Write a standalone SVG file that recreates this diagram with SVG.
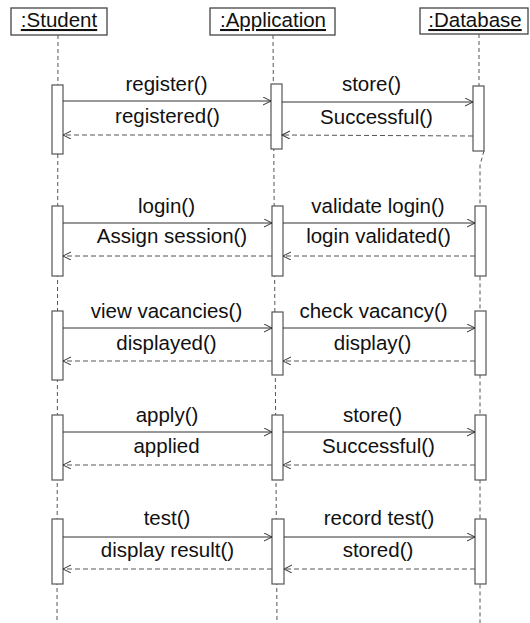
<svg xmlns="http://www.w3.org/2000/svg" width="530" height="623" viewBox="0 0 530 623">
<style>
  text { font-family: "Liberation Sans", Arial, sans-serif; font-size: 20.5px; fill: #111; }
  .hdr { fill: #fff; stroke: #444; stroke-width: 1.3; }
  .life { stroke: #555; stroke-width: 1; stroke-dasharray: 4 3; fill: none; }
  .act { fill: #fff; stroke: #555; stroke-width: 1.2; }
  .call { stroke: #333; stroke-width: 1; fill: none; marker-end: url(#open); }
  .ret { stroke: #555; stroke-width: 1; stroke-dasharray: 5 3; fill: none; marker-end: url(#open); }
  .lbl { text-anchor: middle; }
</style>
<defs>
  <marker id="open" markerUnits="userSpaceOnUse" markerWidth="10" markerHeight="10" refX="8" refY="4" orient="auto">
    <path d="M0,0 L8,4 L0,8" fill="none" stroke="#333" stroke-width="1"/>
  </marker>
</defs>
<rect width="530" height="623" fill="#fff"/>

<g id="student">
  <rect class="hdr" x="11" y="8" width="96" height="27"/>
  <text x="59" y="27" text-anchor="middle" text-decoration="underline">:Student</text>
  <line class="life" x1="58" y1="35" x2="57" y2="623"/>
  <rect class="act" x="52" y="85" width="11" height="69"/>
  <rect class="act" x="52" y="206" width="11" height="70"/>
  <rect class="act" x="52" y="311" width="11" height="69"/>
  <rect class="act" x="52" y="415" width="11" height="65"/>
  <rect class="act" x="52" y="519" width="11" height="65"/>
</g>

<g id="application">
  <rect class="hdr" x="210" y="8" width="125" height="27"/>
  <text x="273" y="27" text-anchor="middle" text-decoration="underline">:Application</text>
  <line class="life" x1="273" y1="35" x2="277" y2="623"/>
  <rect class="act" x="271" y="84" width="11" height="65"/>
  <rect class="act" x="272" y="206" width="11" height="70"/>
  <rect class="act" x="272" y="312" width="11" height="63"/>
  <rect class="act" x="272" y="415" width="11" height="65"/>
  <rect class="act" x="272" y="519" width="12" height="65"/>
</g>

<g id="database">
  <rect class="hdr" x="420" y="8" width="108" height="26"/>
  <text x="475" y="27" text-anchor="middle" text-decoration="underline">:Database</text>
  <path class="life" d="M479,34 V86 M484,151 L480,165 V623"/>
  <rect class="act" x="473" y="86" width="11" height="65"/>
  <rect class="act" x="475" y="206" width="11" height="70"/>
  <rect class="act" x="475" y="311" width="11" height="64"/>
  <rect class="act" x="475" y="415" width="11" height="65"/>
  <rect class="act" x="475" y="519" width="11" height="65"/>
</g>

<g id="connectors">
  <line class="call" x1="63" y1="101" x2="271" y2="101"/>
  <line class="call" x1="282" y1="102" x2="473" y2="102"/>
  <line class="ret" x1="473" y1="136" x2="282" y2="135"/>
  <line class="ret" x1="271" y1="135" x2="63" y2="135"/>

  <line class="call" x1="63" y1="223" x2="272" y2="223"/>
  <line class="call" x1="283" y1="223" x2="475" y2="223"/>
  <line class="ret" x1="475" y1="256" x2="283" y2="256"/>
  <line class="ret" x1="272" y1="256" x2="63" y2="256"/>

  <line class="call" x1="63" y1="328" x2="272" y2="328"/>
  <line class="call" x1="283" y1="328" x2="475" y2="328"/>
  <line class="ret" x1="475" y1="361" x2="283" y2="361"/>
  <line class="ret" x1="272" y1="361" x2="63" y2="361"/>

  <line class="call" x1="63" y1="432" x2="272" y2="432"/>
  <line class="call" x1="283" y1="432" x2="475" y2="432"/>
  <line class="ret" x1="475" y1="465" x2="283" y2="465"/>
  <line class="ret" x1="272" y1="465" x2="63" y2="465"/>

  <line class="call" x1="63" y1="537" x2="272" y2="537"/>
  <line class="call" x1="284" y1="537" x2="475" y2="537"/>
  <line class="ret" x1="475" y1="569" x2="284" y2="569"/>
  <line class="ret" x1="272" y1="569" x2="63" y2="569"/>

  <text class="lbl" x="166.5" y="91">register()</text>
  <text class="lbl" x="371.5" y="91">store()</text>
  <text class="lbl" x="167.5" y="123">registered()</text>
  <text class="lbl" x="376.5" y="124">Successful()</text>

  <text class="lbl" x="166.5" y="213">login()</text>
  <text class="lbl" x="378" y="213">validate login()</text>
  <text class="lbl" x="172" y="243">Assign session()</text>
  <text class="lbl" x="378.5" y="243">login validated()</text>

  <text class="lbl" x="166.5" y="318">view vacancies()</text>
  <text class="lbl" x="373.5" y="318">check vacancy()</text>
  <text class="lbl" x="166.5" y="350">displayed()</text>
  <text class="lbl" x="372.5" y="350">display()</text>

  <text class="lbl" x="167" y="422">apply()</text>
  <text class="lbl" x="372.5" y="422">store()</text>
  <text class="lbl" x="166.5" y="453">applied</text>
  <text class="lbl" x="378.5" y="453">Successful()</text>

  <text class="lbl" x="167" y="525">test()</text>
  <text class="lbl" x="379" y="525">record test()</text>
  <text class="lbl" x="167.5" y="557">display result()</text>
  <text class="lbl" x="378" y="557">stored()</text>
</g>
</svg>
